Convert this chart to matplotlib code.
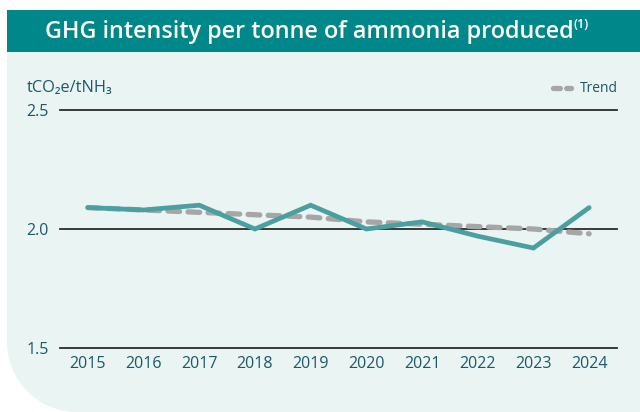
import matplotlib.pyplot as plt
import numpy as np
from matplotlib.patches import PathPatch, Rectangle
from matplotlib.path import Path

plt.rcParams["font.family"] = ["Open Sans", "DejaVu Sans"]

# ── DATA ──
years = [2015, 2016, 2017, 2018, 2019, 2020, 2021, 2022, 2023, 2024]
intensity = [2.09, 2.08, 2.10, 2.00, 2.10, 2.00, 2.03, 1.97, 1.92, 2.09]
trend = [2.09, 2.08, 2.07, 2.06, 2.05, 2.03, 2.02, 2.01, 2.00, 1.98]
yticks = [1.5, 2.0, 2.5]

TEAL_HEAD = "#00878a"
PANEL = "#e9f4f3"
LINE = "#4a9fa0"
TREND = "#a6a6a6"
TEXT = "#1d5866"

W, H = 640, 412
fig = plt.figure(figsize=(W / 100, H / 100), dpi=100)
fig.patch.set_facecolor("white")

def fx(px):
    return px / W

def fy(py):
    return 1 - py / H

# ── PANEL WITH ROUNDED BOTTOM-LEFT ──
r = 70
left, top, bottom = 7, 52, 412
theta = np.linspace(np.pi, 1.5 * np.pi, 30)
arc = [(fx(left + r + r * np.cos(t)), fy(bottom - r - r * np.sin(t))) for t in theta]
verts = [(fx(left), fy(top))] + arc + [(1, fy(bottom)), (1, fy(top)), (fx(left), fy(top))]
fig.patches.append(PathPatch(Path(verts), transform=fig.transFigure,
                             facecolor=PANEL, edgecolor="none", zorder=-2))

# ── HEADER ──
fig.patches.append(Rectangle((fx(7), fy(52)), 1 - fx(7), (52 - 10) / H,
                             transform=fig.transFigure, facecolor=TEAL_HEAD,
                             edgecolor="none", zorder=-1))
fig.text(fx(309), fy(32), "GHG intensity per tonne of ammonia produced",
         color="white", fontsize=16.8, fontweight="semibold",
         ha="center", va="center")
fig.text(fx(573), fy(25), "(1)", color="white", fontsize=9,
         fontweight="semibold", ha="left", va="center")

# ── AXES ──
ax = fig.add_axes([fx(60), fy(348), fx(617) - fx(60), (348 - 110) / H])
ax.set_facecolor("none")
ax.set_xlim(2014.5, 2024.5)
ax.set_ylim(1.5, 2.5)
for s in ax.spines.values():
    s.set_visible(False)
for yv in yticks:
    ax.axhline(yv, color="#2b2b2b", lw=1.3, zorder=1, clip_on=False)

ax.plot(years, trend, color=TREND, lw=3.8, ls=(0, (2.2, 1.6)),
        dash_capstyle="round", zorder=2, clip_on=False)
ax.plot(years, intensity, color=LINE, lw=3.4, solid_capstyle="round",
        solid_joinstyle="miter", zorder=3, clip_on=False)

ax.set_xticks(years)
ax.set_xticklabels([str(y) for y in years])
ax.set_yticks(yticks)
ax.set_yticklabels([f"{v:.1f}" for v in yticks])
ax.tick_params(length=0, labelsize=11.5, colors=TEXT)
ax.tick_params(axis="x", pad=6)
ax.tick_params(axis="y", pad=8)

# unit label
fig.text(fx(27), fy(88), "tCO₂e/tNH₃", color=TEXT, fontsize=11.8,
         ha="left", va="center")

# legend
fig.lines.append(plt.Line2D([fx(553), fx(571)], [fy(88), fy(88)],
                            transform=fig.transFigure, color=TREND, lw=3.8,
                            ls=(0, (1.3, 1.2)), dash_capstyle="round"))
fig.text(fx(580), fy(88), "Trend", color=TEXT, fontsize=10,
         ha="left", va="center")

plt.savefig("out.png", dpi=100, facecolor=fig.get_facecolor())
plt.close()
